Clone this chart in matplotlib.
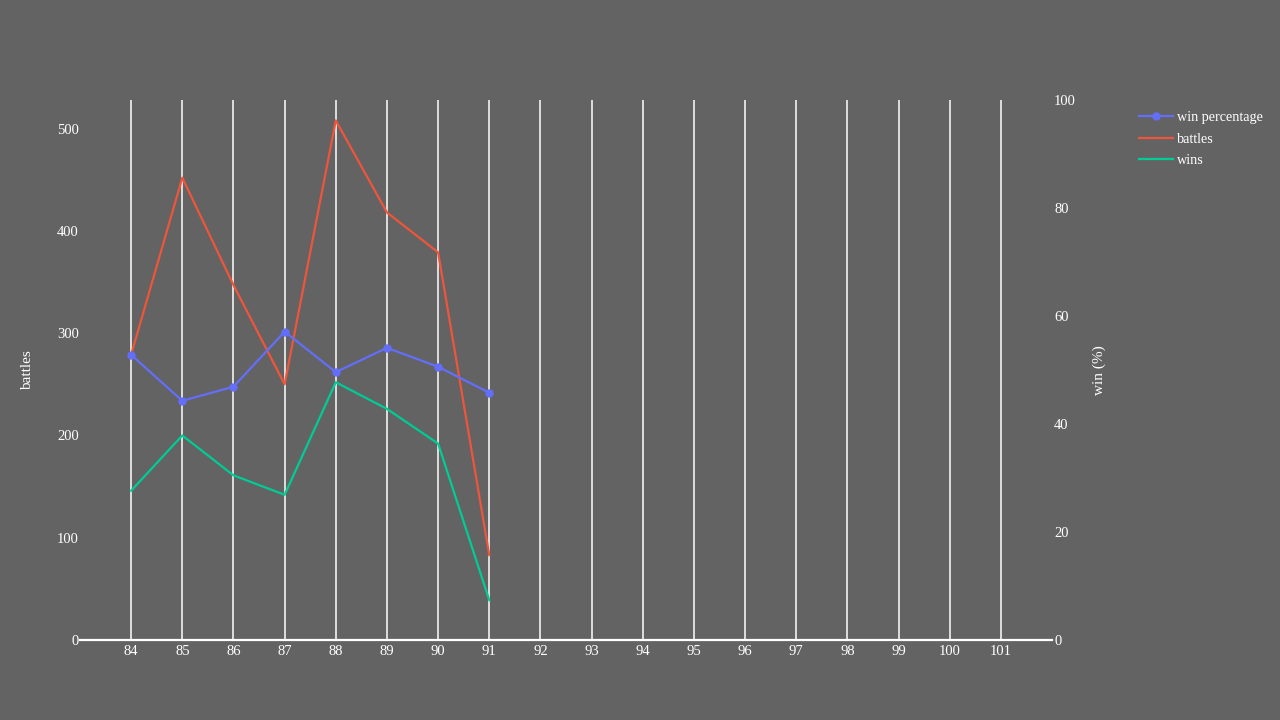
import matplotlib
matplotlib.use("Agg")
import matplotlib.pyplot as plt
from matplotlib.lines import Line2D

# ---- data ----
seasons = [84, 85, 86, 87, 88, 89, 90, 91]
battles = [279, 452, 347, 250, 508, 418, 379, 83]
wins = [146, 200, 161, 142, 252, 226, 192, 39]
win_pct = [52.8, 44.3, 46.9, 57.1, 49.6, 54.1, 50.6, 45.8]
x_ticks = list(range(84, 102))
left_ticks = [0, 100, 200, 300, 400, 500]
right_ticks = [0, 20, 40, 60, 80, 100]

BG = "#636363"
BLUE = "#636efa"
RED = "#EF553B"
GREEN = "#00cc96"
FONT = ["Liberation Serif", "DejaVu Serif"]

plt.rcParams["font.family"] = FONT
plt.rcParams["font.size"] = 10.5

fig = plt.figure(figsize=(12.8, 7.2), dpi=100, facecolor=BG)
ax = fig.add_axes([80 / 1280, 1 - 640 / 720, (1052 - 80) / 1280, 540 / 720])
ax.set_facecolor("none")
ax2 = ax.twinx()
ax2.set_facecolor("none")

ax.set_xlim(83, 102)
ax.set_ylim(0, 528)
ax2.set_ylim(0, 100)

for xv in x_ticks:
    ax.axvline(xv, color="white", lw=1.1, zorder=0)

ax.plot(seasons, battles, color=RED, lw=1.6, zorder=3, label="battles")
ax.plot(seasons, wins, color=GREEN, lw=1.6, zorder=3, label="wins")
ax2.plot(seasons, win_pct, color=BLUE, lw=1.6, marker="o", markersize=5,
         zorder=4, label="win percentage")

for a in (ax, ax2):
    for s in a.spines.values():
        s.set_visible(False)
ax.spines["bottom"].set_visible(True)
ax.spines["bottom"].set_color("white")
ax.spines["bottom"].set_linewidth(1.6)

ax.set_xticks(x_ticks)
ax.set_xticklabels([str(v) for v in x_ticks])
ax.set_yticks(left_ticks)
ax2.set_yticks(right_ticks)
ax.tick_params(axis="x", length=0, pad=3.5, colors="white", labelsize=10.5)
ax.tick_params(axis="y", length=0, pad=0.8, colors="white", labelsize=10.5)
ax2.tick_params(axis="y", length=0, pad=1.5, colors="white", labelsize=10.5)

ax.set_ylabel("battles", color="white", fontsize=11, labelpad=16.5)
ax2.set_ylabel("win (%)", color="white", fontsize=11, labelpad=12, rotation=90)

handles = [
    Line2D([], [], color=BLUE, lw=1.6, marker="o", markersize=5),
    Line2D([], [], color=RED, lw=1.6),
    Line2D([], [], color=GREEN, lw=1.6),
]
labels = ["win percentage", "battles", "wins"]
leg = fig.legend(handles, labels, loc="upper left",
                 bbox_to_anchor=(1132 / 1280, 1 - 104 / 720),
                 frameon=False, fontsize=10.2, handlelength=2.4,
                 handletextpad=0.3, labelspacing=0.6, borderpad=0,
                 labelcolor="white")

fig.savefig("out.png", dpi=100, facecolor=BG)
